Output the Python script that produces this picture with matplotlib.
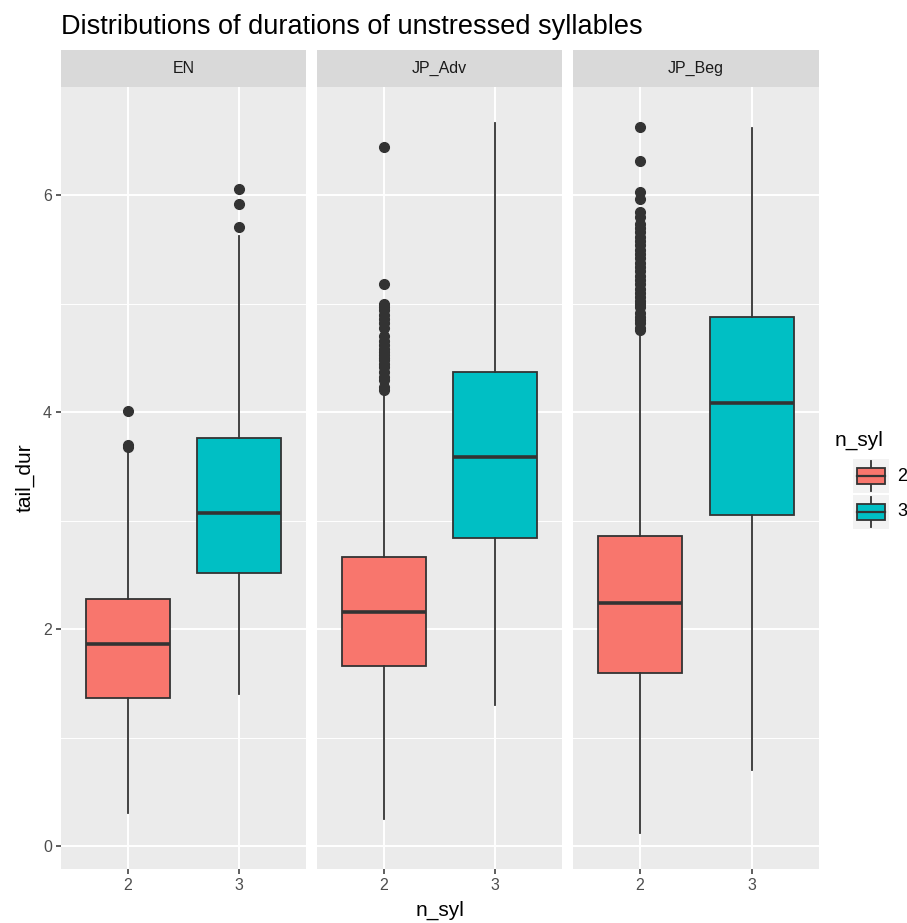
import matplotlib
matplotlib.use('Agg')
import matplotlib.pyplot as plt
from matplotlib.patches import Rectangle

plt.rcParams['font.family'] = ['Liberation Sans', 'DejaVu Sans']

# ---- data ----
groups = ['EN', 'JP_Adv', 'JP_Beg']
n_syl = ['2', '3']
colors = {'2': '#F8766D', '3': '#00BFC4'}

# per group: [n_syl=2, n_syl=3]
whis_lo = {'EN': [0.31, 1.40], 'JP_Adv': [0.25, 1.30], 'JP_Beg': [0.12, 0.70]}
q1 = {'EN': [1.37, 2.52], 'JP_Adv': [1.66, 2.84], 'JP_Beg': [1.60, 3.05]}
med = {'EN': [1.86, 3.07], 'JP_Adv': [2.16, 3.59], 'JP_Beg': [2.24, 4.09]}
q3 = {'EN': [2.28, 3.76], 'JP_Adv': [2.67, 4.37], 'JP_Beg': [2.86, 4.88]}
whis_hi = {'EN': [3.65, 5.63], 'JP_Adv': [4.18, 6.67], 'JP_Beg': [4.74, 6.62]}
outliers = {
    'EN': [[3.68, 3.70, 4.01], [5.71, 5.92, 6.06]],
    'JP_Adv': [[4.21, 4.23, 4.30, 4.33, 4.37, 4.42, 4.45, 4.48, 4.50, 4.53, 4.56,
                4.58, 4.62, 4.66, 4.70, 4.78, 4.82, 4.86, 4.90, 4.94, 4.97, 5.00,
                5.18, 6.45], []],
    'JP_Beg': [[4.76, 4.78, 4.82, 4.85, 4.88, 4.92, 4.97, 5.00, 5.03, 5.06, 5.10,
                5.14, 5.18, 5.22, 5.26, 5.30, 5.34, 5.38, 5.42, 5.46, 5.50, 5.54,
                5.58, 5.62, 5.66, 5.70, 5.74, 5.80, 5.85, 5.97, 6.03, 6.32, 6.63], []],
}

W, H = 907, 923
fig = plt.figure(figsize=(W / 100, H / 100), dpi=100)
fig.patch.set_facecolor('white')

def rect(x0, y0, x1, y1):
    return [x0 / W, 1 - y1 / H, (x1 - x0) / W, (y1 - y0) / H]

panels = {'EN': (61, 306), 'JP_Adv': (317, 562), 'JP_Beg': (573, 819)}
top, bottom, strip_top = 87, 869, 50
edge = '#333333'

for gi, g in enumerate(groups):
    x0, x1 = panels[g]
    ax = fig.add_axes(rect(x0, top, x1, bottom))
    ax.set_facecolor('#EBEBEB')
    for s in ax.spines.values():
        s.set_visible(False)
    stats = []
    for i, n in enumerate(n_syl):
        stats.append(dict(whislo=whis_lo[g][i], q1=q1[g][i], med=med[g][i],
                          q3=q3[g][i], whishi=whis_hi[g][i], fliers=outliers[g][i]))
    b = ax.bxp(stats, positions=[1, 2], widths=0.75, patch_artist=True,
               showcaps=False, zorder=3,
               boxprops=dict(edgecolor=edge, linewidth=1.3),
               medianprops=dict(color=edge, linewidth=2.6),
               whiskerprops=dict(color=edge, linewidth=1.3),
               flierprops=dict(marker='o', markerfacecolor=edge, markeredgecolor=edge,
                               markersize=7, linestyle='none'))
    for patch, n in zip(b['boxes'], n_syl):
        patch.set_facecolor(colors[n])
    ax.set_xlim(0.4, 2.6)
    ax.set_ylim(-0.21, 7.0)
    ax.set_yticks([0, 2, 4, 6])
    ax.set_yticks([1, 3, 5], minor=True)
    ax.set_xticks([1, 2])
    ax.set_xticklabels(n_syl)
    ax.grid(True, which='major', color='white', linewidth=1.4, zorder=0)
    ax.grid(True, which='minor', axis='y', color='white', linewidth=0.7, zorder=0)
    ax.set_axisbelow(True)
    ax.tick_params(which='major', length=3.5, width=1.1, color=edge,
                   labelcolor='#4D4D4D', labelsize=11.5, pad=3)
    ax.tick_params(which='minor', length=0)
    if gi > 0:
        ax.tick_params(axis='y', which='both', length=0, labelleft=False)
    # facet strip
    sax = fig.add_axes(rect(x0, strip_top, x1, top))
    sax.set_facecolor('#D9D9D9')
    sax.set_xticks([]); sax.set_yticks([])
    for s in sax.spines.values():
        s.set_visible(False)
    sax.text(0.5, 0.5, g, ha='center', va='center', fontsize=11.5, color='#1A1A1A',
             transform=sax.transAxes)

fig.text(61 / W, 1 - 27 / H, 'Distributions of durations of unstressed syllables',
         ha='left', va='center', fontsize=19.5, color='black')
fig.text((61 + 819) / 2 / W, 1 - 910 / H, 'n_syl', ha='center', va='center',
         fontsize=15, color='black')
fig.text(25 / W, 1 - 478 / H, 'tail_dur', ha='center', va='center', rotation=90,
         fontsize=15, color='black')

# legend
fig.text(835 / W, 1 - 440 / H, 'n_syl', ha='left', va='center', fontsize=15, color='black')
lax = fig.add_axes(rect(853, 458, 889, 530))
lax.set_xlim(0, 1); lax.set_ylim(2, 0)
lax.axis('off')
for k, n in enumerate(n_syl):
    lax.add_patch(Rectangle((0, k + 0.02), 1, 0.96, facecolor='#F2F2F2', edgecolor='none'))
    lax.plot([0.5, 0.5], [k + 0.08, k + 0.92], color=edge, linewidth=1.3)
    lax.add_patch(Rectangle((0.12, k + 0.27), 0.76, 0.46, facecolor=colors[n],
                            edgecolor=edge, linewidth=1.3, zorder=3))
    lax.plot([0.12, 0.88], [k + 0.5, k + 0.5], color=edge, linewidth=1.6, zorder=4)
    fig.text(897 / W, 1 - (458 + 36 * k + 18) / H, n, ha='left', va='center',
             fontsize=13, color='black')

fig.savefig('out.png', dpi=100)
